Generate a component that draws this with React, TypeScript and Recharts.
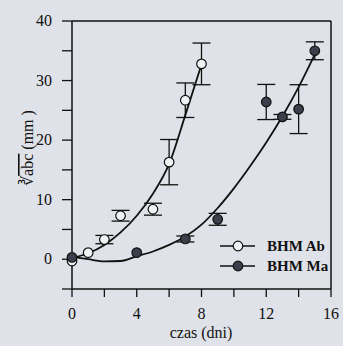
import React from "react";
import {
  ComposedChart,
  Line,
  Scatter,
  ErrorBar,
  XAxis,
  YAxis,
  ReferenceLine,
  Legend
} from "recharts";

// measured points (days, value, error)
const abDays = [0, 1, 2, 3, 5, 6, 7, 8];
const abValues = [-0.3, 1.1, 3.3, 7.3, 8.4, 16.3, 26.7, 32.8];
const abErrors = [0, 0, 0.7, 0.9, 1.0, 3.8, 2.9, 3.5];

const maDays = [0, 4, 7, 9, 12, 13, 14, 15];
const maValues = [0.3, 1.1, 3.4, 6.7, 26.4, 23.9, 25.2, 35.0];
const maErrors = [0, 0, 0.5, 1.0, 2.95, 0.4, 4.1, 1.5];

// fitted curves
const abFitDays = [0, 1, 2, 3, 4, 5, 6, 7, 8];
const abFitValues = [0.2, 1.0, 2.4, 4.5, 7.3, 11.0, 16.0, 24.2, 32.7];

const maFitDays = [0, 1, 2, 3, 4, 5, 6, 7, 8, 9, 10, 11, 12, 13, 14, 15];
const maFitValues = [0.4, 0.0, -0.35, -0.3, 0.5, 1.3, 2.4, 3.8, 5.8, 8.6, 11.9, 15.6, 19.6, 24.0, 28.9, 34.4];

const xTicks = [0, 2, 4, 6, 8, 10, 12, 14, 16];
const yTicks = [-5, 0, 5, 10, 15, 20, 25, 30, 35, 40];
const seriesNames = ["BHM Ab", "BHM Ma"];

const FONT = "Liberation Serif";
const BG = "#dfe2e8";
const DARK = "#3b3f4c";

const toPoints = (xs: number[], ys: number[], errs?: number[]) =>
  xs.map((x, i) => ({ x, y: ys[i], err: errs ? errs[i] : 0 }));

const abPoints = toPoints(abDays, abValues, abErrors);
const maPoints = toPoints(maDays, maValues, maErrors);
const abFit = toPoints(abFitDays, abFitValues);
const maFit = toPoints(maFitDays, maFitValues);

const OpenDot = (props: any) => (
  <circle cx={props.cx} cy={props.cy} r={4.8} fill="#f1f2f4" stroke="#111" strokeWidth={1.2} />
);
const FilledDot = (props: any) => (
  <circle cx={props.cx} cy={props.cy} r={4.8} fill={DARK} stroke="#111" strokeWidth={1.2} />
);

const XTick = (props: any) => {
  const v = props.payload.value;
  if (v % 4 !== 0) return <g />;
  return (
    <text x={props.x} y={props.y + 20} textAnchor="middle" style={{ fontFamily: FONT, fontSize: 16 }} fill="#111">
      {v}
    </text>
  );
};

const YTick = (props: any) => {
  const v = props.payload.value;
  if (v % 10 !== 0) return <g />;
  return (
    <text x={props.x - 8} y={props.y + 5} textAnchor="end" style={{ fontFamily: FONT, fontSize: 16 }} fill="#111">
      {v}
    </text>
  );
};

const XLabel = () => (
  <text x={201} y={338} textAnchor="middle" style={{ fontFamily: FONT, fontSize: 16 }} fill="#111">
    czas (dni)
  </text>
);

const YLabel = () => (
  <text
    transform="translate(33,148) rotate(-90)"
    textAnchor="middle"
    style={{ fontFamily: FONT, fontSize: 16 }}
    fill="#111"
  >
    <tspan>∛</tspan>
    <tspan textDecoration="overline">abc</tspan>
    <tspan> (mm )</tspan>
  </text>
);

const LegendBox = () => (
  <svg width={120} height={40} style={{ display: "block" }}>
    {seriesNames.map((name, i) => {
      const y = 10 + i * 20;
      return (
        <g key={name}>
          <line x1={6} x2={41} y1={y} y2={y} stroke="#111" strokeWidth={1.5} />
          {i === 0 ? <OpenDot cx={24} cy={y} /> : <FilledDot cx={24} cy={y} />}
          <text x={53} y={y + 5} style={{ fontFamily: FONT, fontSize: 15, fontWeight: "bold" }} fill="#111">
            {name}
          </text>
        </g>
      );
    })}
  </svg>
);

export default function App() {
  return (
    <div
      style={{
        position: "absolute",
        left: 0,
        top: 0,
        width: 343,
        height: 346,
        background: BG,
        fontFamily: FONT
      }}
    >
      <ComposedChart width={343} height={346} margin={{ top: 21, right: 12, bottom: 17, left: 30 }}>
        <XAxis
          type="number"
          dataKey="x"
          domain={[0, 16]}
          ticks={xTicks}
          interval={0}
          tickSize={8}
          height={40}
          axisLine={{ stroke: "#111", strokeWidth: 1.5 }}
          tickLine={{ stroke: "#111", strokeWidth: 1.3 }}
          tick={<XTick />}
          label={{ content: () => <XLabel /> }}
        />
        <YAxis
          type="number"
          dataKey="y"
          domain={[-5, 40]}
          ticks={yTicks}
          interval={0}
          width={42}
          tickSize={10}
          axisLine={{ stroke: "#111", strokeWidth: 1.5 }}
          tickLine={{ stroke: "#111", strokeWidth: 1.3 }}
          tick={<YTick />}
          label={{ content: () => <YLabel /> }}
        />
        <ReferenceLine y={40} stroke="#111" strokeWidth={1.5} />
        <ReferenceLine x={16} stroke="#111" strokeWidth={1.5} />
        <Line
          data={abFit}
          dataKey="y"
          type="monotone"
          stroke="#111"
          strokeWidth={1.8}
          dot={false}
          activeDot={false}
          isAnimationActive={false}
        />
        <Line
          data={maFit}
          dataKey="y"
          type="monotone"
          stroke="#111"
          strokeWidth={1.8}
          dot={false}
          activeDot={false}
          isAnimationActive={false}
        />
        <Scatter data={abPoints} dataKey="y" name={seriesNames[0]} shape={OpenDot} isAnimationActive={false}>
          <ErrorBar dataKey="err" direction="y" width={9} stroke="#111" strokeWidth={1.3} isAnimationActive={false} />
        </Scatter>
        <Scatter data={maPoints} dataKey="y" name={seriesNames[1]} shape={FilledDot} isAnimationActive={false}>
          <ErrorBar dataKey="err" direction="y" width={9} stroke="#111" strokeWidth={1.3} isAnimationActive={false} />
        </Scatter>
        <Legend
          layout="vertical"
          align="center"
          verticalAlign="middle"
          content={() => <LegendBox />}
          wrapperStyle={{ position: "absolute", left: 214, top: 236, width: 120, height: 40 }}
        />
      </ComposedChart>
    </div>
  );
}
